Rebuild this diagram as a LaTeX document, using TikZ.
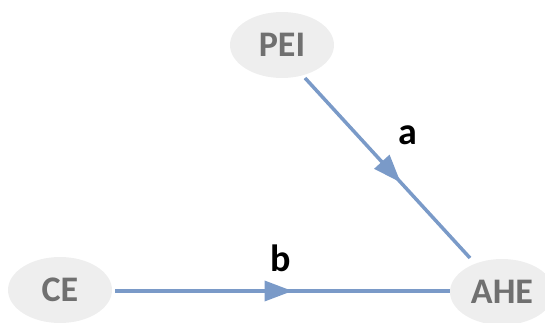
\documentclass[tikz,border=0pt]{standalone}
\usepackage{fontspec}
\setmainfont{Carlito}
\usetikzlibrary{decorations.markings,arrows.meta,shapes.geometric}
\definecolor{edgeblue}{RGB}{122,154,200}
\definecolor{nodefill}{RGB}{238,238,238}
\definecolor{nodetext}{RGB}{112,112,112}
\tikzset{
  var/.style={ellipse, fill=nodefill, draw=none, minimum width=104pt, minimum height=66pt,
    inner sep=0pt, text=nodetext, font=\fontsize{36}{36}\selectfont\bfseries},
  path/.style={draw=edgeblue, line width=3.5pt,
    postaction={decorate, decoration={markings,
      mark=at position #1 with {\arrow[edgeblue]{Triangle[length=28pt,width=20pt]}}}}},
  lab/.style={font=\fontsize{38}{38}\selectfont\bfseries, text=black}
}
\begin{document}
\begin{tikzpicture}[x=1pt,y=-1pt]
  \useasboundingbox (0,0) rectangle (545,323);
  \node[var] (pei) at (282,45) {PEI};
  \node[var] (ce) at (60,290) {CE};
  \node[var] (ahe) at (502,292) {AHE};
  \coordinate (pa) at (305,78);
  \coordinate (pb) at (470,258);
  \coordinate (ca) at (115,291);
  \coordinate (cb) at (450,291);
  \draw[path=0.58] (pa) -- (pb);
  \draw[path=0.53] (ca) -- (cb);
  \node[lab] (a) at (408,135) {a};
  \node[lab] (b) at (281,258) {b};
\end{tikzpicture}
\end{document}
